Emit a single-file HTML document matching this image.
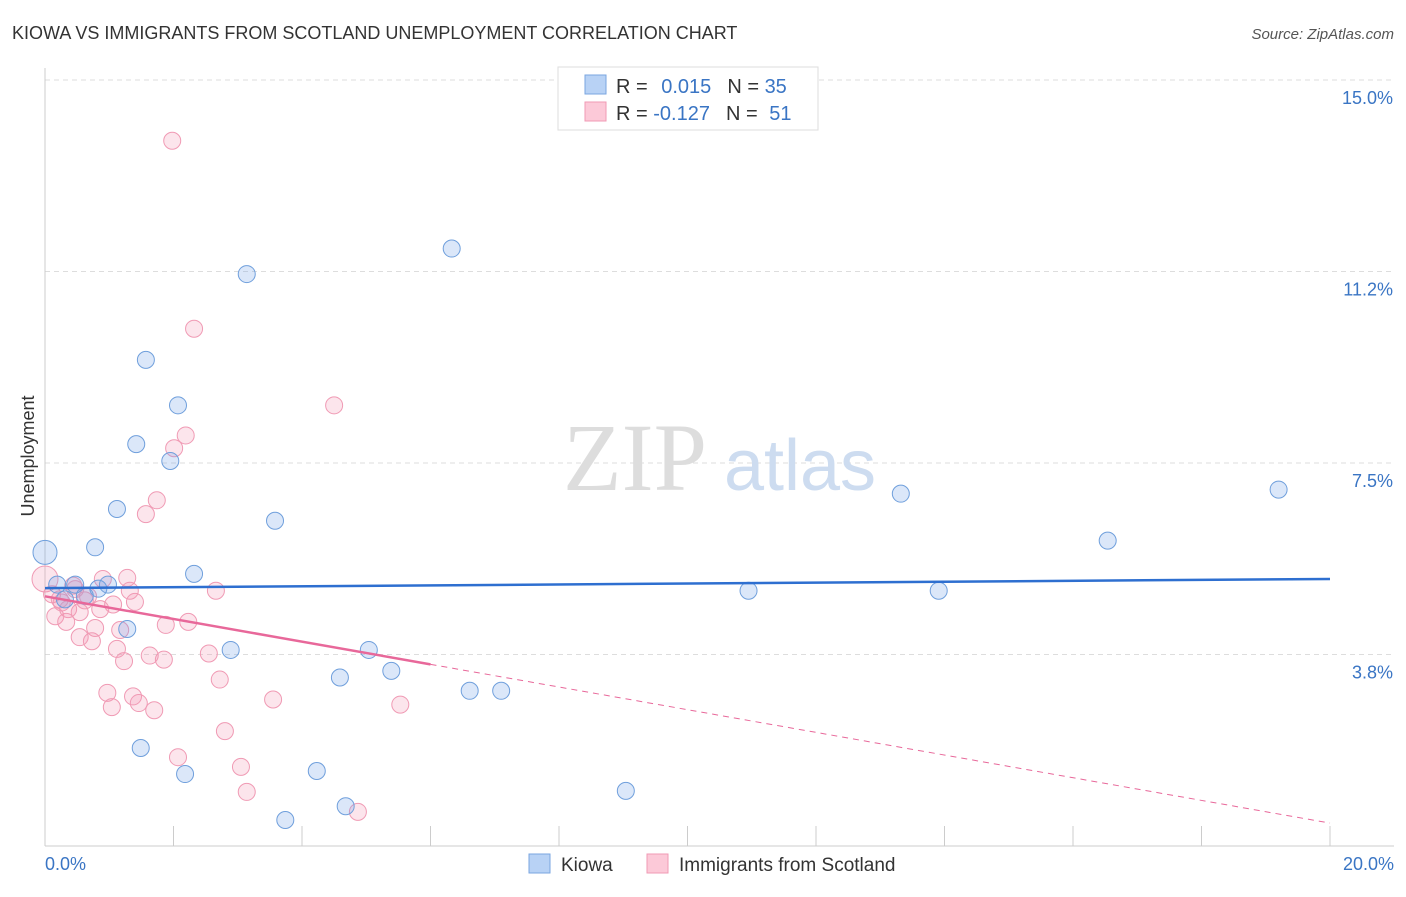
<!DOCTYPE html>
<html><head><meta charset="utf-8"><style>
body{margin:0;background:#fff;font-family:"Liberation Sans",sans-serif;}
svg text{font-family:"Liberation Sans",sans-serif;}
</style></head><body>
<svg width="1406" height="892" xmlns="http://www.w3.org/2000/svg">
<text x="12" y="39" font-size="18" fill="#333">KIOWA VS IMMIGRANTS FROM SCOTLAND UNEMPLOYMENT CORRELATION CHART</text>
<text x="1394" y="39" font-size="15" fill="#555" text-anchor="end" font-style="italic">Source: ZipAtlas.com</text>
<g id="grid"></g>
<g>
<text x="635" y="490" font-size="96" fill="#ddd" text-anchor="middle" font-family="Liberation Serif" style="font-family:'Liberation Serif',serif">ZIP</text>
<text x="800" y="490" font-size="72" fill="#cddcf0" text-anchor="middle">atlas</text></g>
<line x1="45" y1="68" x2="45" y2="846" stroke="#ccc"/>
<line x1="45" y1="846" x2="1394" y2="846" stroke="#ccc"/>
<text x="34" y="456" font-size="18" fill="#333" text-anchor="middle" transform="rotate(-90 34 456)">Unemployment</text>
<text x="45" y="870" font-size="18" fill="#3a75c4">0.0%</text>
<text x="1394" y="870" font-size="18" fill="#3a75c4" text-anchor="end">20.0%</text>
<g id="pts"></g>
<g id="trends"></g>
<g>
<rect x="558" y="67" width="260" height="63" fill="#fff" stroke="#ddd"/>
<rect x="585" y="75" width="21" height="19" fill="#b8d2f5" stroke="#7aa6e0"/>
<rect x="585" y="102" width="21" height="19" fill="#fcc9d8" stroke="#f09ab4"/>
<text x="616" y="93" font-size="20" fill="#333">R = <tspan fill="#3a75c4" dx="8">0.015</tspan><tspan dx="16" fill="#333">N = </tspan><tspan fill="#3a75c4">35</tspan></text>
<text x="616" y="120" font-size="20" fill="#333">R = <tspan fill="#3a75c4">-0.127</tspan><tspan dx="16" fill="#333">N = </tspan><tspan fill="#3a75c4" dx="6">51</tspan></text>
</g>
<g>
<rect x="529" y="854" width="21" height="19" fill="#b8d2f5" stroke="#7aa6e0"/>
<text x="561" y="871" font-size="19" fill="#333">Kiowa</text>
<rect x="647" y="854" width="21" height="19" fill="#fcc9d8" stroke="#f09ab4"/>
<text x="679" y="871" font-size="19" fill="#333">Immigrants from Scotland</text>
</g>
</svg>
<script>
const yTicks=[15.0,11.25,7.5,3.75];
const yTickLabels=["15.0%","11.2%","7.5%","3.8%"];
const xTicks=[0,2,4,6,8,10,12,14,16,18,20];
const kiowaX=[0,0.19,0.47,0.78,0.83,0.98,0.31,1.12,1.28,1.42,1.49,1.57,1.95,2.07,2.18,2.32,2.89,3.14,3.58,3.74,4.23,4.59,4.68,5.04,5.39,6.33,6.61,7.1,9.04,10.95,13.32,13.91,16.54,19.2,0.62];
const kiowaY=[5.75,5.12,5.12,5.85,5.04,5.12,4.83,6.6,4.25,7.87,1.92,9.52,7.54,8.63,1.41,5.33,3.84,11.2,6.37,0.51,1.47,3.3,0.78,3.84,3.43,11.7,3.04,3.04,1.08,5.0,6.9,5.0,5.98,6.98,4.9];
const scotX=[1.98,2.32,4.5,2.19,2.01,1.74,1.57,0,0.11,0.16,0.26,0.36,0.47,0.54,0.62,0.67,0.78,0.86,0.9,1.06,1.17,1.28,1.32,1.4,0.54,0.73,1.12,1.23,1.63,1.85,1.88,2.23,2.55,2.66,0.97,1.04,1.37,1.46,1.70,2.72,3.55,5.53,2.8,2.07,3.05,3.14,4.87,0.33,0.44,0.23];
const scotY=[13.81,10.13,8.63,8.04,7.79,6.77,6.5,5.23,4.93,4.5,4.77,4.64,5.03,4.58,4.81,4.89,4.27,4.64,5.23,4.73,4.23,5.25,5.0,4.78,4.09,4.01,3.86,3.62,3.73,3.65,4.33,4.39,3.77,5.0,3.0,2.72,2.93,2.8,2.66,3.26,2.87,2.77,2.25,1.74,1.55,1.06,0.67,4.39,5.1,4.83];
const kiowaTrend=[5.05,5.23];
const scotTrend=[4.89,0.45];
const NS="http://www.w3.org/2000/svg";
const xs=v=>45+v*64.25, ys=v=>80+(15-v)*51.07;
function mk(t,a,p){const e=document.createElementNS(NS,t);for(const k in a)e.setAttribute(k,a[k]);p.appendChild(e);return e;}
const grid=document.getElementById('grid');
yTicks.forEach((t,i)=>{
 const l=mk('line',{x1:45,x2:1394,y1:ys(t),y2:ys(t),stroke:'#ddd','stroke-dasharray':'5,4'},grid);
 
 
 const tx=mk('text',{x:1393,y:ys(t)+24,'font-size':18,fill:'#3a75c4','text-anchor':'end'},grid);
 tx.textContent=yTickLabels[i];
 
 
});
xTicks.forEach(t=>{
 const l=mk('line',{x1:xs(t),x2:xs(t),y1:826,y2:846,stroke:'#ccc'},grid);
 
 
});
const pts=document.getElementById('pts');
scotX.forEach((x,i)=>{
 const c=mk('circle',{cx:xs(x),cy:ys(scotY[i]),r:x===0?13:8.5,fill:'rgba(245,150,180,0.25)',stroke:'#f09ab4','stroke-width':1},pts);
 
 
});
kiowaX.forEach((x,i)=>{
 const c=mk('circle',{cx:xs(x),cy:ys(kiowaY[i]),r:x===0?12:8.5,fill:'rgba(110,160,230,0.25)',stroke:'#6f9fdc','stroke-width':1},pts);
 
 
});
const tr=document.getElementById('trends');
let l=mk('line',{x1:xs(0),y1:ys(kiowaTrend[0]),x2:xs(20),y2:ys(kiowaTrend[1]),stroke:'#2e6fd0','stroke-width':2.5},tr);


const sAt=v=>scotTrend[0]+(scotTrend[1]-scotTrend[0])*v/20;
l=mk('line',{x1:xs(0),y1:ys(sAt(0)),x2:xs(6),y2:ys(sAt(6)),stroke:'#e8689a','stroke-width':2.5},tr);


l=mk('line',{x1:xs(6),y1:ys(sAt(6)),x2:xs(20),y2:ys(sAt(20)),stroke:'#e8689a','stroke-width':1,'stroke-dasharray':'6,5'},tr);


</script>
</body></html>
